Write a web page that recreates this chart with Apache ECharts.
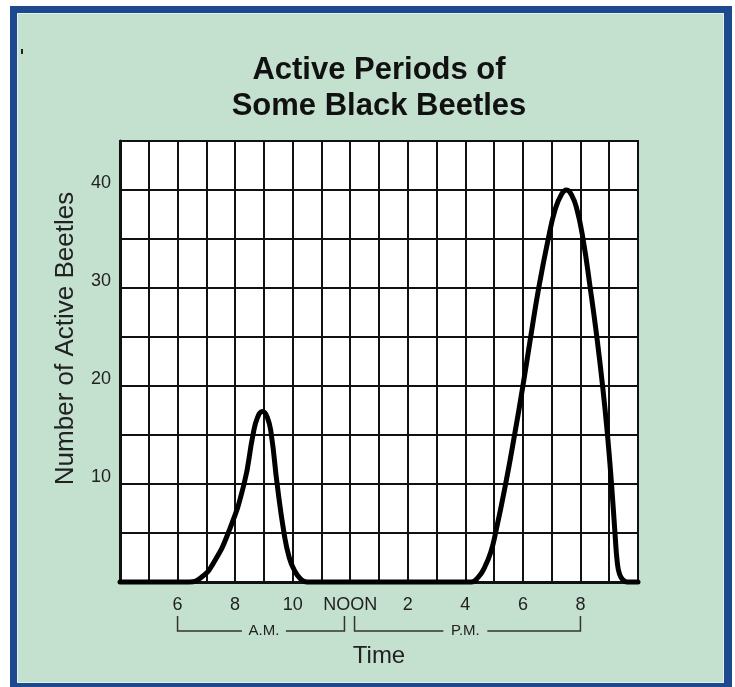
<!DOCTYPE html>
<html>
<head>
<meta charset="utf-8">
<script src="https://cdn.jsdelivr.net/npm/echarts@6/dist/echarts.min.js"></script>
<style>
  html, body { margin: 0; padding: 0; background: #ffffff; }
  #wrap { position: relative; width: 735px; height: 687px; overflow: hidden; }
  .blue { position: absolute; left: 10px; top: 6px; width: 722px; height: 690px; background: #1d4a8e; }
  .light { position: absolute; left: 17px; top: 13px; width: 707px; height: 670px; background: #e4f0ea; }
  .green { position: absolute; left: 18px; top: 14px; width: 705px; height: 668px; background: #c4e0cf; }
  .mark { position: absolute; left: 21px; top: 49px; width: 2px; height: 5px; background: #222; }
  #chart { position: absolute; left: 0; top: 0; width: 735px; height: 687px; }
</style>
</head>
<body>
<div id="wrap">
  <div class="blue"></div>
  <div class="light"></div>
  <div class="green"></div>
  <div class="mark"></div>
  <div id="chart"></div>
</div>
<script>
// ---- data ----
const titleLines = ['Active Periods of', 'Some Black Beetles'];
const xAxisTitle = 'Time';
const yAxisTitle = 'Number of Active Beetles';

// hours of the day (24h clock) and number of active beetles
const timeHours = [4, 6, 6.4, 6.84, 7.24, 7.76, 8.31, 8.62, 8.78, 8.95, 9.12, 9.26, 9.46, 9.7, 9.88, 10.06, 10.28, 10.5,
                   12, 14, 16.2, 16.45, 16.67, 16.88, 17.05, 17.4, 17.71, 18.0, 18.27, 18.55, 18.88, 19.12, 19.33, 19.51,
                   19.69, 19.88, 20.09, 20.34, 20.57, 20.77, 20.94, 21.08, 21.2, 21.28, 21.36, 21.48, 21.62, 22];
const activeBeetles = [0, 0, 0, 0.5, 1.9, 5, 10, 15, 16.8, 17.4, 16.8, 15, 10, 5, 2.5, 1.2, 0.3, 0,
                       0, 0, 0, 0.5, 1.5, 3, 5, 10, 15, 20, 25, 30, 35, 38, 39.5, 40,
                       39.5, 38, 35, 30, 25, 20, 15, 10, 5, 2, 0.8, 0.2, 0, 0];

const xTickValues = [6, 8, 10, 12, 14, 16, 18, 20];
const xTickLabels = ['6', '8', '10', 'NOON', '2', '4', '6', '8'];
const yTickValues = [10, 20, 30, 40];
const yTickLabels = ['10', '20', '30', '40'];

const periodNames = ['A.M.', 'P.M.'];
const periodStart = [6, 12.15];
const periodEnd = [11.8, 20];
const periodLabelAt = [9, 16];

const seriesData = timeHours.map((h, i) => [h, activeBeetles[i]]);

const FONT = 'Liberation Sans, Arial, sans-serif';
const chart = echarts.init(document.getElementById('chart'), null, { renderer: 'canvas' });

const option = {
  animation: false,
  textStyle: { fontFamily: FONT },
  grid: {
    left: 120, right: 97, top: 141, bottom: 105,
    show: true, backgroundColor: '#ffffff', borderColor: '#111', borderWidth: 2
  },
  xAxis: {
    type: 'value', min: 4, max: 22, interval: 1,
    name: xAxisTitle, nameLocation: 'middle', nameGap: 62,
    nameTextStyle: { fontSize: 24, color: '#222', fontFamily: FONT },
    axisLine: { show: true, lineStyle: { color: '#111', width: 3 } },
    axisTick: { show: false },
    splitLine: { show: true, lineStyle: { color: '#111', width: 2 } },
    axisLabel: {
      margin: 14, fontSize: 18, color: '#222', fontFamily: FONT,
      formatter: v => { const i = xTickValues.indexOf(v); return i >= 0 ? xTickLabels[i] : ''; }
    }
  },
  yAxis: {
    type: 'value', min: 0, max: 45, interval: 5,
    name: yAxisTitle, nameLocation: 'middle', nameGap: 41,
    nameTextStyle: { fontSize: 26, color: '#222', fontFamily: FONT, padding: [0, 0, 0, 46] },
    axisLine: { show: true, lineStyle: { color: '#111', width: 3 } },
    axisTick: { show: false },
    splitLine: { show: true, lineStyle: { color: '#111', width: 2 } },
    axisLabel: {
      margin: 9, fontSize: 18, color: '#222', fontFamily: FONT,
      verticalAlign: 'bottom', lineHeight: 14,
      formatter: v => { const i = yTickValues.indexOf(v); return i >= 0 ? yTickLabels[i] : ''; }
    }
  },
  series: [{
    type: 'line',
    data: seriesData,
    smooth: 0.5,
    symbol: 'none',
    clip: false,
    lineStyle: { color: '#000', width: 5, cap: 'round', join: 'round' },
    z: 5
  }]
};
chart.setOption(option);

// annotations: title, A.M./P.M. brackets placed through the axis scale
function px(h) { return chart.convertToPixel({ xAxisIndex: 0, yAxisIndex: 0 }, [h, 0])[0]; }
const gridCenter = (px(4) + px(22)) / 2;
const graphics = [{
  type: 'text', x: gridCenter, y: 88, silent: true,
  style: {
    text: titleLines.join('\n'), font: 'bold 31px ' + FONT, fill: '#111',
    align: 'center', verticalAlign: 'middle', textAlign: 'center', textVerticalAlign: 'middle', lineHeight: 36
  }
}];
const topY = 616, lineY = 631, gap = 22;
for (let k = 0; k < periodNames.length; k++) {
  const x0 = px(periodStart[k]), x1 = px(periodEnd[k]), xc = px(periodLabelAt[k]);
  graphics.push({
    type: 'polyline', silent: true,
    shape: { points: [[x0, topY], [x0, lineY], [xc - gap, lineY]] },
    style: { stroke: '#333', lineWidth: 1.5, fill: null }
  });
  graphics.push({
    type: 'polyline', silent: true,
    shape: { points: [[xc + gap, lineY], [x1, lineY], [x1, topY]] },
    style: { stroke: '#333', lineWidth: 1.5, fill: null }
  });
  graphics.push({
    type: 'text', x: xc, y: lineY, silent: true,
    style: {
      text: periodNames[k], font: '15px ' + FONT, fill: '#222',
      align: 'center', verticalAlign: 'middle', textAlign: 'center', textVerticalAlign: 'middle'
    }
  });
}
chart.setOption({ graphic: graphics });
</script>
</body>
</html>
